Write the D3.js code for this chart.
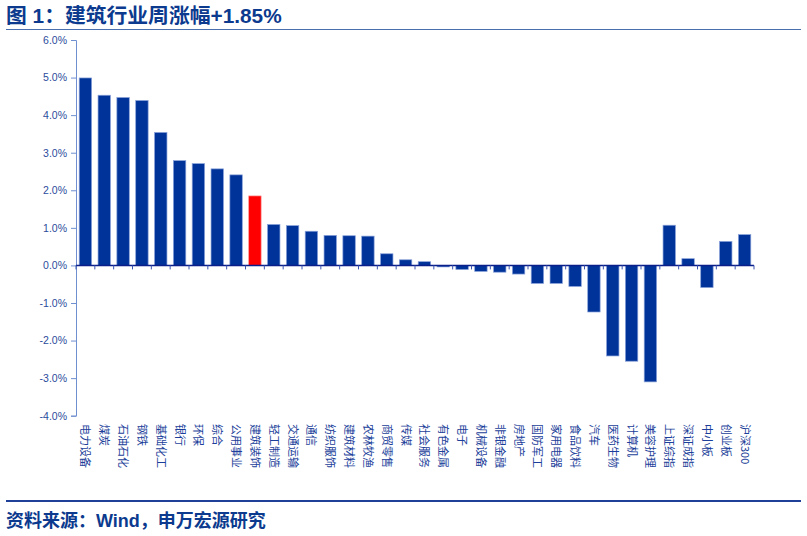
<!DOCTYPE html>
<html>
<head>
<meta charset="utf-8">
<script src="https://cdn.jsdelivr.net/npm/d3@7"></script>
<style>
  body { margin: 0; background: #fff; }
  svg { display: block; font-family: "Liberation Sans", Arial, "Noto Sans CJK SC", sans-serif; }
  .title { font-family: "Liberation Sans", "Noto Sans CJK SC", sans-serif; font-weight: bold; fill: #0b3a8e; }
  .cat { font-family: "Noto Sans CJK SC", sans-serif; fill: #1b3f9a; font-size: 11px; }
  .ytick text { fill: #2b4c9c; font-size: 10.5px; }
</style>
</head>
<body>
<svg width="807" height="536"></svg>
<script>
const categories = ["电力设备", "煤炭", "石油石化", "钢铁", "基础化工", "银行", "环保", "综合", "公用事业", "建筑装饰",
    "轻工制造", "交通运输", "通信", "纺织服饰", "建筑材料", "农林牧渔", "商贸零售", "传媒", "社会服务", "有色金属",
    "电子", "机械设备", "非银金融", "房地产", "国防军工", "家用电器", "食品饮料", "汽车", "医药生物", "计算机",
    "美容护理", "上证综指", "深证成指", "中小板", "创业板", "沪深300"]

const values = [4.99, 4.53, 4.47, 4.39, 3.54, 2.79, 2.71, 2.57, 2.41, 1.85,
    1.09, 1.06, 0.91, 0.80, 0.79, 0.78, 0.31, 0.15, 0.10, -0.04,
    -0.11, -0.16, -0.18, -0.23, -0.48, -0.48, -0.56, -1.24, -2.41, -2.55,
    -3.10, 1.07, 0.18, -0.59, 0.64, 0.82]

const highlight = "建筑装饰"
const yTicks = [-4, -3, -2, -1, 0, 1, 2, 3, 4, 5, 6]

const svg = d3.select("svg")

svg.append("text")
    .attr("class", "title")
    .attr("x", 6)
    .attr("y", 23)
    .style("font-size", "20.8px")
    .text("图 1：建筑行业周涨幅+1.85%")

svg.append("line")
    .attr("x1", 6).attr("x2", 801)
    .attr("y1", 29.5).attr("y2", 29.5)
    .attr("stroke", "#4a6fae")
    .attr("stroke-width", 1)

const x = d3.scaleBand()
    .domain(categories)
    .range([76, 754])
    .paddingInner(0.34)
    .paddingOuter(0.17)

const y = d3.scaleLinear()
    .domain([-4, 6])
    .range([415.7, 40])

// y axis
const yAxis = svg.append("g")
    .attr("class", "ytick")
    .attr("transform", "translate(76,0)")
    .call(d3.axisLeft(y).tickValues(yTicks).tickSize(5).tickPadding(4)
        .tickFormat(d => d.toFixed(1) + "%"))
yAxis.select(".domain").attr("stroke", "#6f8fd0")
yAxis.selectAll(".tick line").attr("stroke", "#6f8fd0")

// bars
svg.selectAll("rect.bar")
    .data(values)
    .enter()
    .append("rect")
    .attr("class", "bar")
    .attr("x", (d, i) => x(categories[i]))
    .attr("width", x.bandwidth())
    .attr("y", d => y(Math.max(0, d)))
    .attr("height", d => Math.abs(y(d) - y(0)))
    .attr("fill", (d, i) => categories[i] === highlight ? "#ff0000" : "#003399")
    .attr("stroke", (d, i) => categories[i] === highlight ? "#ff9a9a" : "#8ba3da")
    .attr("stroke-width", 0.7)

// zero line with ticks between categories
const step = x.step()
const bounds = d3.range(categories.length + 1).map(i => 76 + i * step)

svg.append("line")
    .attr("x1", 76).attr("x2", 754)
    .attr("y1", y(0)).attr("y2", y(0))
    .attr("stroke", "#0a1f8a")
    .attr("stroke-width", 1.5)

svg.selectAll("line.xt")
    .data(bounds)
    .enter()
    .append("line")
    .attr("class", "xt")
    .attr("x1", d => d).attr("x2", d => d)
    .attr("y1", y(0)).attr("y2", y(0) + 4)
    .attr("stroke", "#3b54b0")
    .attr("stroke-width", 1)

// category labels, rotated to read downwards
svg.selectAll("text.cat")
    .data(categories)
    .enter()
    .append("text")
    .attr("class", "cat")
    .attr("transform", d => `translate(${x(d) + x.bandwidth() / 2 - 4},424) rotate(90)`)
    .attr("text-anchor", "start")
    .text(d => d)

svg.append("line")
    .attr("x1", 6).attr("x2", 801)
    .attr("y1", 501).attr("y2", 501)
    .attr("stroke", "#1f3f99")
    .attr("stroke-width", 2)

svg.append("text")
    .attr("class", "title")
    .attr("x", 6)
    .attr("y", 527)
    .style("font-size", "18px")
    .text("资料来源：Wind，申万宏源研究")
</script>
</body>
</html>
